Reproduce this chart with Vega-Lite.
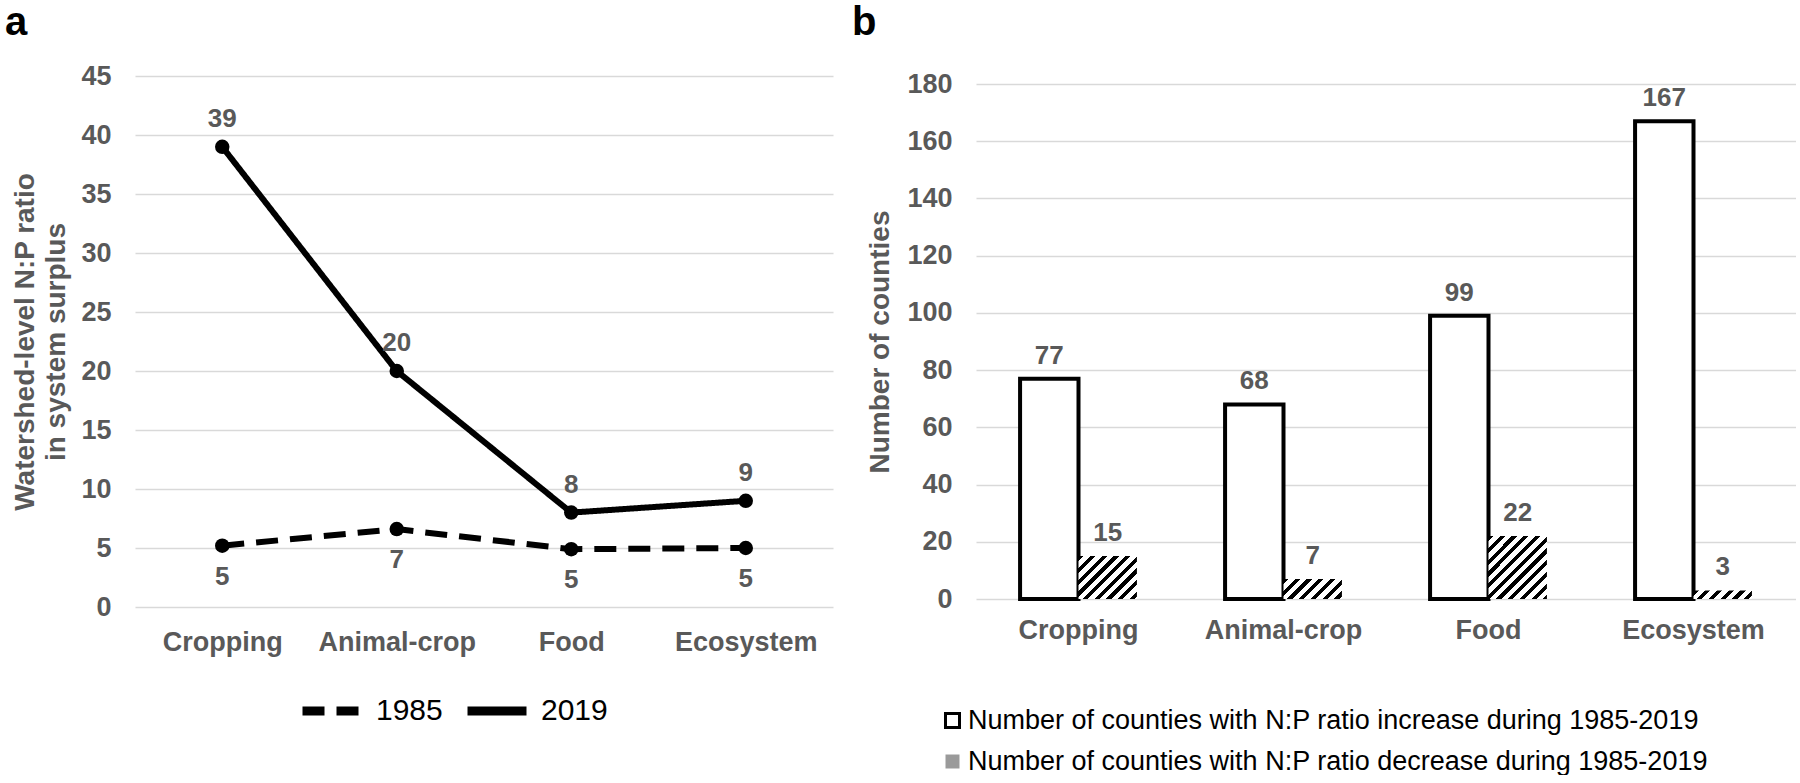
{
  "$schema": "https://vega.github.io/schema/vega-lite/v6.json",
  "background": "white",
  "padding": {"left": 5, "top": 3, "right": 0, "bottom": 0},
  "bounds": "flush",
  "center": true,
  "spacing": 143,
  "config": {
    "font": "Liberation Sans",
    "view": {"stroke": null},
    "axis": {
      "labelFont": "Liberation Sans",
      "labelFontWeight": "bold",
      "labelColor": "#595959",
      "labelFontSize": 27,
      "titleFont": "Liberation Sans",
      "titleFontWeight": "bold",
      "titleColor": "#595959",
      "titleFontSize": 28,
      "domain": false,
      "ticks": false,
      "gridColor": "#d9d9d9",
      "gridWidth": 1.5
    },
    "axisX": {"grid": false, "labelPadding": 18, "labelAngle": 0},
    "axisY": {"labelPadding": 24},
    "legend": {"labelFont": "Liberation Sans", "labelColor": "#000000", "labelFontWeight": "normal"}
  },
  "hconcat": [
    {
      "width": 698,
      "height": 531,
      "title": {"text": "a", "anchor": "start", "frame": "group", "dx": -130, "dy": 40, "offset": 27, "baseline": "alphabetic", "fontSize": 40, "fontWeight": "bold", "color": "#000000", "font": "Liberation Sans"},
      "data": {
        "values": [
          {"system": "Cropping", "year": "1985", "ratio": 5.2},
          {"system": "Animal-crop", "year": "1985", "ratio": 6.6},
          {"system": "Food", "year": "1985", "ratio": 4.9},
          {"system": "Ecosystem", "year": "1985", "ratio": 5.0},
          {"system": "Cropping", "year": "2019", "ratio": 39},
          {"system": "Animal-crop", "year": "2019", "ratio": 20},
          {"system": "Food", "year": "2019", "ratio": 8},
          {"system": "Ecosystem", "year": "2019", "ratio": 9}
        ]
      },
      "encoding": {
        "x": {
          "field": "system", "type": "nominal",
          "sort": ["Cropping", "Animal-crop", "Food", "Ecosystem"],
          "scale": {"type": "point", "padding": 0.5},
          "axis": {"title": null, "labelPadding": 22}
        },
        "y": {
          "field": "ratio", "type": "quantitative",
          "scale": {"domain": [0, 45]},
          "axis": {
            "values": [0, 5, 10, 15, 20, 25, 30, 35, 40, 45],
            "title": ["Watershed-level N:P ratio", "in system surplus"],
            "titlePadding": 10,
            "titleLineHeight": 31
          }
        }
      },
      "layer": [
        {
          "mark": {"type": "line", "strokeWidth": 6, "color": "#000000"},
          "encoding": {
            "strokeDash": {
              "field": "year", "type": "nominal",
              "scale": {"domain": ["1985", "2019"], "range": [[22, 12], [1, 0]]},
              "legend": {
                "orient": "none", "legendX": 163, "legendY": 601,
                "direction": "horizontal", "title": null,
                "symbolType": "stroke", "symbolSize": 3481, "symbolStrokeWidth": 9,
                "symbolStrokeColor": "#000000",
                "labelFontSize": 30, "labelOffset": 10, "columnPadding": 6
              }
            }
          }
        },
        {
          "mark": {"type": "point", "filled": true, "size": 210, "color": "#000000", "opacity": 1}
        },
        {
          "transform": [{"filter": "datum.year === '2019'"}],
          "mark": {"type": "text", "dy": -20, "baseline": "alphabetic", "fontSize": 26, "fontWeight": "bold", "color": "#595959"},
          "encoding": {"text": {"field": "ratio", "type": "quantitative", "format": ".0f"}}
        },
        {
          "transform": [{"filter": "datum.year === '1985'"}],
          "mark": {"type": "text", "dy": 39, "baseline": "alphabetic", "fontSize": 26, "fontWeight": "bold", "color": "#595959"},
          "encoding": {"text": {"field": "ratio", "type": "quantitative", "format": ".0f"}}
        }
      ]
    },
    {
      "width": 820,
      "height": 515,
      "title": {"text": "b", "anchor": "start", "frame": "group", "dx": -124, "dy": 40, "offset": 35, "baseline": "alphabetic", "fontSize": 40, "fontWeight": "bold", "color": "#000000", "font": "Liberation Sans"},
      "data": {
        "values": [
          {"system": "Cropping", "trend": "increase", "series": "Number of counties with N:P ratio increase during 1985-2019", "count": 77},
          {"system": "Animal-crop", "trend": "increase", "series": "Number of counties with N:P ratio increase during 1985-2019", "count": 68},
          {"system": "Food", "trend": "increase", "series": "Number of counties with N:P ratio increase during 1985-2019", "count": 99},
          {"system": "Ecosystem", "trend": "increase", "series": "Number of counties with N:P ratio increase during 1985-2019", "count": 167},
          {"system": "Cropping", "trend": "decrease", "series": "Number of counties with N:P ratio decrease during 1985-2019", "count": 15},
          {"system": "Animal-crop", "trend": "decrease", "series": "Number of counties with N:P ratio decrease during 1985-2019", "count": 7},
          {"system": "Food", "trend": "decrease", "series": "Number of counties with N:P ratio decrease during 1985-2019", "count": 22},
          {"system": "Ecosystem", "trend": "decrease", "series": "Number of counties with N:P ratio decrease during 1985-2019", "count": 3}
        ]
      },
      "encoding": {
        "x": {
          "field": "system", "type": "nominal",
          "sort": ["Cropping", "Animal-crop", "Food", "Ecosystem"],
          "scale": {"paddingInner": 0.43, "paddingOuter": 0.215},
          "axis": {"title": null}
        },
        "xOffset": {
          "field": "series", "type": "nominal",
          "sort": ["Number of counties with N:P ratio increase during 1985-2019", "Number of counties with N:P ratio decrease during 1985-2019"],
          "scale": {"paddingInner": 0, "paddingOuter": 0}
        },
        "y": {
          "field": "count", "type": "quantitative",
          "scale": {"domain": [0, 180]},
          "axis": {
            "values": [0, 20, 40, 60, 80, 100, 120, 140, 160, 180],
            "title": "Number of counties",
            "titlePadding": 12
          }
        }
      },
      "layer": [
        {
          "mark": {"type": "bar", "strokeWidth": 4},
          "encoding": {
            "fill": {
              "field": "series", "type": "nominal",
              "scale": {
                "domain": ["Number of counties with N:P ratio increase during 1985-2019", "Number of counties with N:P ratio decrease during 1985-2019"],
                "range": ["#ffffff", "#9a9a9a"]
              },
              "legend": {
                "orient": "none", "legendX": 804, "legendY": 631,
                "direction": "vertical", "title": null,
                "symbolType": "square", "symbolSize": 196, "symbolStrokeWidth": 3,
                "labelFontSize": 27, "labelOffset": 2, "rowPadding": 13, "labelLimit": 1000
              },
              "condition": [
                {"test": "datum.trend === 'decrease' && datum.system === 'Cropping'", "value": {"gradient": "linear", "x1": 0, "y1": 0, "x2": 1.3683, "y2": 1.0049, "stops": [
                  {"offset": 0, "color": "#000000"}, {"offset": 0.0429, "color": "#000000"},
                  {"offset": 0.0429, "color": "#ffffff"}, {"offset": 0.0952, "color": "#ffffff"},
                  {"offset": 0.0952, "color": "#000000"}, {"offset": 0.1381, "color": "#000000"},
                  {"offset": 0.1381, "color": "#ffffff"}, {"offset": 0.1905, "color": "#ffffff"},
                  {"offset": 0.1905, "color": "#000000"}, {"offset": 0.2333, "color": "#000000"},
                  {"offset": 0.2333, "color": "#ffffff"}, {"offset": 0.2857, "color": "#ffffff"},
                  {"offset": 0.2857, "color": "#000000"}, {"offset": 0.3286, "color": "#000000"},
                  {"offset": 0.3286, "color": "#ffffff"}, {"offset": 0.381, "color": "#ffffff"},
                  {"offset": 0.381, "color": "#000000"}, {"offset": 0.4238, "color": "#000000"},
                  {"offset": 0.4238, "color": "#ffffff"}, {"offset": 0.4762, "color": "#ffffff"},
                  {"offset": 0.4762, "color": "#000000"}, {"offset": 0.519, "color": "#000000"},
                  {"offset": 0.519, "color": "#ffffff"}, {"offset": 0.5714, "color": "#ffffff"},
                  {"offset": 0.5714, "color": "#000000"}, {"offset": 0.6143, "color": "#000000"},
                  {"offset": 0.6143, "color": "#ffffff"}, {"offset": 0.6667, "color": "#ffffff"},
                  {"offset": 0.6667, "color": "#000000"}, {"offset": 0.7095, "color": "#000000"},
                  {"offset": 0.7095, "color": "#ffffff"}, {"offset": 0.7619, "color": "#ffffff"},
                  {"offset": 0.7619, "color": "#000000"}, {"offset": 0.8048, "color": "#000000"},
                  {"offset": 0.8048, "color": "#ffffff"}, {"offset": 0.8571, "color": "#ffffff"},
                  {"offset": 0.8571, "color": "#000000"}, {"offset": 0.9, "color": "#000000"},
                  {"offset": 0.9, "color": "#ffffff"}, {"offset": 0.9524, "color": "#ffffff"},
                  {"offset": 0.9524, "color": "#000000"}, {"offset": 0.9952, "color": "#000000"},
                  {"offset": 0.9952, "color": "#ffffff"}, {"offset": 1, "color": "#ffffff"}
                ]}},
                {"test": "datum.trend === 'decrease' && datum.system === 'Animal-crop'", "value": {"gradient": "linear", "x1": 0, "y1": 0, "x2": 1.8849, "y2": 0.6455, "stops": [
                  {"offset": 0, "color": "#000000"}, {"offset": 0.0429, "color": "#000000"},
                  {"offset": 0.0429, "color": "#ffffff"}, {"offset": 0.0952, "color": "#ffffff"},
                  {"offset": 0.0952, "color": "#000000"}, {"offset": 0.1381, "color": "#000000"},
                  {"offset": 0.1381, "color": "#ffffff"}, {"offset": 0.1905, "color": "#ffffff"},
                  {"offset": 0.1905, "color": "#000000"}, {"offset": 0.2333, "color": "#000000"},
                  {"offset": 0.2333, "color": "#ffffff"}, {"offset": 0.2857, "color": "#ffffff"},
                  {"offset": 0.2857, "color": "#000000"}, {"offset": 0.3286, "color": "#000000"},
                  {"offset": 0.3286, "color": "#ffffff"}, {"offset": 0.381, "color": "#ffffff"},
                  {"offset": 0.381, "color": "#000000"}, {"offset": 0.4238, "color": "#000000"},
                  {"offset": 0.4238, "color": "#ffffff"}, {"offset": 0.4762, "color": "#ffffff"},
                  {"offset": 0.4762, "color": "#000000"}, {"offset": 0.519, "color": "#000000"},
                  {"offset": 0.519, "color": "#ffffff"}, {"offset": 0.5714, "color": "#ffffff"},
                  {"offset": 0.5714, "color": "#000000"}, {"offset": 0.6143, "color": "#000000"},
                  {"offset": 0.6143, "color": "#ffffff"}, {"offset": 0.6667, "color": "#ffffff"},
                  {"offset": 0.6667, "color": "#000000"}, {"offset": 0.7095, "color": "#000000"},
                  {"offset": 0.7095, "color": "#ffffff"}, {"offset": 0.7619, "color": "#ffffff"},
                  {"offset": 0.7619, "color": "#000000"}, {"offset": 0.8048, "color": "#000000"},
                  {"offset": 0.8048, "color": "#ffffff"}, {"offset": 0.8571, "color": "#ffffff"},
                  {"offset": 0.8571, "color": "#000000"}, {"offset": 0.9, "color": "#000000"},
                  {"offset": 0.9, "color": "#ffffff"}, {"offset": 0.9524, "color": "#ffffff"},
                  {"offset": 0.9524, "color": "#000000"}, {"offset": 0.9952, "color": "#000000"},
                  {"offset": 0.9952, "color": "#ffffff"}, {"offset": 1, "color": "#ffffff"}
                ]}},
                {"test": "datum.trend === 'decrease' && datum.system === 'Food'", "value": {"gradient": "linear", "x1": 0, "y1": 0, "x2": 0.9751, "y2": 1.0502, "stops": [
                  {"offset": 0, "color": "#000000"}, {"offset": 0.0429, "color": "#000000"},
                  {"offset": 0.0429, "color": "#ffffff"}, {"offset": 0.0952, "color": "#ffffff"},
                  {"offset": 0.0952, "color": "#000000"}, {"offset": 0.1381, "color": "#000000"},
                  {"offset": 0.1381, "color": "#ffffff"}, {"offset": 0.1905, "color": "#ffffff"},
                  {"offset": 0.1905, "color": "#000000"}, {"offset": 0.2333, "color": "#000000"},
                  {"offset": 0.2333, "color": "#ffffff"}, {"offset": 0.2857, "color": "#ffffff"},
                  {"offset": 0.2857, "color": "#000000"}, {"offset": 0.3286, "color": "#000000"},
                  {"offset": 0.3286, "color": "#ffffff"}, {"offset": 0.381, "color": "#ffffff"},
                  {"offset": 0.381, "color": "#000000"}, {"offset": 0.4238, "color": "#000000"},
                  {"offset": 0.4238, "color": "#ffffff"}, {"offset": 0.4762, "color": "#ffffff"},
                  {"offset": 0.4762, "color": "#000000"}, {"offset": 0.519, "color": "#000000"},
                  {"offset": 0.519, "color": "#ffffff"}, {"offset": 0.5714, "color": "#ffffff"},
                  {"offset": 0.5714, "color": "#000000"}, {"offset": 0.6143, "color": "#000000"},
                  {"offset": 0.6143, "color": "#ffffff"}, {"offset": 0.6667, "color": "#ffffff"},
                  {"offset": 0.6667, "color": "#000000"}, {"offset": 0.7095, "color": "#000000"},
                  {"offset": 0.7095, "color": "#ffffff"}, {"offset": 0.7619, "color": "#ffffff"},
                  {"offset": 0.7619, "color": "#000000"}, {"offset": 0.8048, "color": "#000000"},
                  {"offset": 0.8048, "color": "#ffffff"}, {"offset": 0.8571, "color": "#ffffff"},
                  {"offset": 0.8571, "color": "#000000"}, {"offset": 0.9, "color": "#000000"},
                  {"offset": 0.9, "color": "#ffffff"}, {"offset": 0.9524, "color": "#ffffff"},
                  {"offset": 0.9524, "color": "#000000"}, {"offset": 0.9952, "color": "#000000"},
                  {"offset": 0.9952, "color": "#ffffff"}, {"offset": 1, "color": "#ffffff"}
                ]}},
                {"test": "datum.trend === 'decrease' && datum.system === 'Ecosystem'", "value": {"gradient": "linear", "x1": 0, "y1": 0, "x2": 2.0614, "y2": 0.3029, "stops": [
                  {"offset": 0, "color": "#000000"}, {"offset": 0.0429, "color": "#000000"},
                  {"offset": 0.0429, "color": "#ffffff"}, {"offset": 0.0952, "color": "#ffffff"},
                  {"offset": 0.0952, "color": "#000000"}, {"offset": 0.1381, "color": "#000000"},
                  {"offset": 0.1381, "color": "#ffffff"}, {"offset": 0.1905, "color": "#ffffff"},
                  {"offset": 0.1905, "color": "#000000"}, {"offset": 0.2333, "color": "#000000"},
                  {"offset": 0.2333, "color": "#ffffff"}, {"offset": 0.2857, "color": "#ffffff"},
                  {"offset": 0.2857, "color": "#000000"}, {"offset": 0.3286, "color": "#000000"},
                  {"offset": 0.3286, "color": "#ffffff"}, {"offset": 0.381, "color": "#ffffff"},
                  {"offset": 0.381, "color": "#000000"}, {"offset": 0.4238, "color": "#000000"},
                  {"offset": 0.4238, "color": "#ffffff"}, {"offset": 0.4762, "color": "#ffffff"},
                  {"offset": 0.4762, "color": "#000000"}, {"offset": 0.519, "color": "#000000"},
                  {"offset": 0.519, "color": "#ffffff"}, {"offset": 0.5714, "color": "#ffffff"},
                  {"offset": 0.5714, "color": "#000000"}, {"offset": 0.6143, "color": "#000000"},
                  {"offset": 0.6143, "color": "#ffffff"}, {"offset": 0.6667, "color": "#ffffff"},
                  {"offset": 0.6667, "color": "#000000"}, {"offset": 0.7095, "color": "#000000"},
                  {"offset": 0.7095, "color": "#ffffff"}, {"offset": 0.7619, "color": "#ffffff"},
                  {"offset": 0.7619, "color": "#000000"}, {"offset": 0.8048, "color": "#000000"},
                  {"offset": 0.8048, "color": "#ffffff"}, {"offset": 0.8571, "color": "#ffffff"},
                  {"offset": 0.8571, "color": "#000000"}, {"offset": 0.9, "color": "#000000"},
                  {"offset": 0.9, "color": "#ffffff"}, {"offset": 0.9524, "color": "#ffffff"},
                  {"offset": 0.9524, "color": "#000000"}, {"offset": 0.9952, "color": "#000000"},
                  {"offset": 0.9952, "color": "#ffffff"}, {"offset": 1, "color": "#ffffff"}
                ]}}
              ]
            },
            "stroke": {
              "field": "series", "type": "nominal",
              "scale": {
                "domain": ["Number of counties with N:P ratio increase during 1985-2019", "Number of counties with N:P ratio decrease during 1985-2019"],
                "range": ["#000000", "transparent"]
              },
              "legend": {
                "orient": "none", "legendX": 804, "legendY": 631,
                "direction": "vertical", "title": null,
                "symbolType": "square", "symbolSize": 196, "symbolStrokeWidth": 3,
                "labelFontSize": 27, "labelOffset": 2, "rowPadding": 13, "labelLimit": 1000
              }
            }
          }
        },
        {
          "mark": {"type": "text", "dy": -15, "baseline": "alphabetic", "fontSize": 26, "fontWeight": "bold", "color": "#595959"},
          "encoding": {"text": {"field": "count", "type": "quantitative"}}
        }
      ]
    }
  ]
}
